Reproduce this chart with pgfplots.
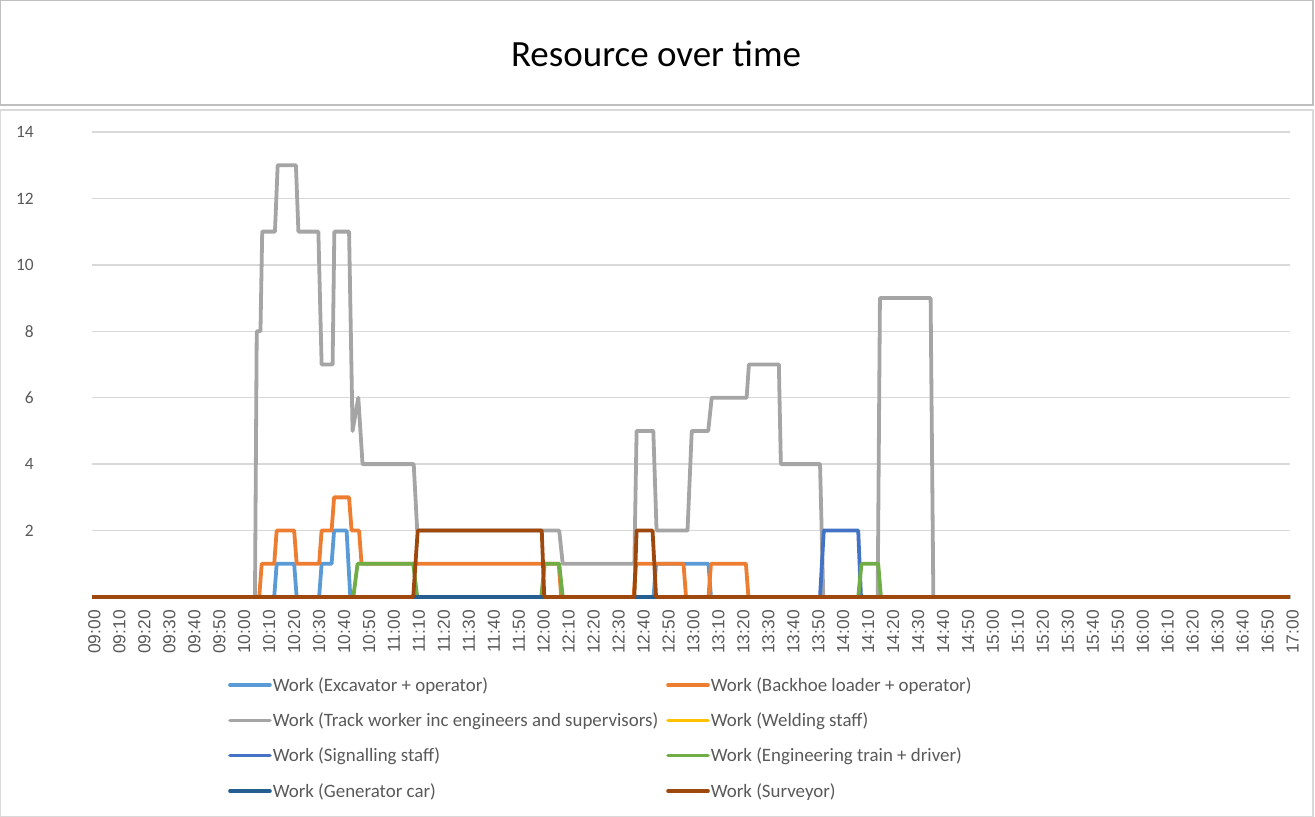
\documentclass[border=0pt]{standalone}
\usepackage{fontspec}
\setmainfont{Carlito}
\newfontfamily\tickfont{Liberation Sans}
\usepackage{pgfplots}
\pgfplotsset{compat=1.18}
\definecolor{excav}{HTML}{5B9BD5}
\definecolor{backhoe}{HTML}{ED7D31}
\definecolor{track}{HTML}{A5A5A5}
\definecolor{weld}{HTML}{FFC000}
\definecolor{signal}{HTML}{4472C4}
\definecolor{engtrain}{HTML}{70AD47}
\definecolor{gencar}{HTML}{255E91}
\definecolor{surveyor}{HTML}{9E480E}
\definecolor{txtgray}{HTML}{595959}
\definecolor{gridgray}{HTML}{D9D9D9}
\definecolor{boxgray}{HTML}{BFBFBF}

\begin{document}
\begin{tikzpicture}
\useasboundingbox (0,0) rectangle (1315bp,817bp);
% title box and chart box
\draw[boxgray, line width=1.3bp] (0.7bp,712bp) rectangle (1313bp,816.3bp);
\draw[gridgray, line width=1.3bp] (0.7bp,0.7bp) rectangle (1313bp,707bp);
\node[font=\fontsize{37bp}{44bp}\selectfont, text=black] at (656bp,763bp) {Resource over time};

\begin{axis}[
  at={(92bp,220bp)}, anchor=south west,
  scale only axis,
  width=1198bp, height=465bp,
  xmin=0, xmax=480, ymin=0, ymax=14,
  clip=false,
  axis line style={draw=none},
  major tick length=0pt,
  xtick={0,10,...,480},
  xticklabels={09:00,09:10,09:20,09:30,09:40,09:50,10:00,10:10,10:20,10:30,10:40,10:50,11:00,11:10,11:20,11:30,11:40,11:50,12:00,12:10,12:20,12:30,12:40,12:50,13:00,13:10,13:20,13:30,13:40,13:50,14:00,14:10,14:20,14:30,14:40,14:50,15:00,15:10,15:20,15:30,15:40,15:50,16:00,16:10,16:20,16:30,16:40,16:50,17:00},
  xticklabel style={rotate=90, anchor=east, inner sep=0pt, font=\tickfont\fontsize{17.4bp}{20bp}\selectfont, text=txtgray, xshift=-13bp, yshift=-2.5bp},
  ytick={2,4,...,14},
  yticklabel style={anchor=east, inner sep=0pt, font=\fontsize{17.4bp}{20bp}\selectfont, text=txtgray, xshift=-58bp},
  /pgf/number format/assume math mode=true,
  ymajorgrids,
  grid style={gridgray, line width=1.3bp},
  every axis plot/.append style={line width=3.8bp, line join=round, mark=none},
  legend columns=2,
  legend cell align=left,
  legend image code/.code={\draw[#1, line width=3.6bp, line cap=round] (0bp,0bp) -- (40bp,0bp);},
  legend style={at={(0.111,-0.166)}, anchor=north west, draw=none, fill=none,
    font=\fontsize{18.9bp}{21bp}\selectfont, text=txtgray,
    row sep=18bp,
    nodes={inner sep=1bp},
    /tikz/every even column/.append style={column sep=7bp}},
]
\addplot[excav] coordinates {(0,0)(73,0)(74,1)(81,1)(82,0)(91,0)(92,1)(96,1)(97,2)(102,2)(103.5,0)(225,0)(226,1)(247,1)(248,0)(480,0)};
\addlegendentry{Work (Excavator + operator)}
\addplot[backhoe] coordinates {(0,0)(67,0)(68,1)(73,1)(74,2)(81,2)(82,1)(91,1)(92,2)(96,2)(97,3)(103,3)(104,2)(107,2)(108,1)(187,1)(188,0)(217,0)(218,1)(237,1)(238,0)(247,0)(248,1)(262,1)(263,0)(480,0)};
\addlegendentry{Work (Backhoe loader + operator)}
\addplot[track] coordinates {(0,0)(65.3,0)(66,8)(67.5,8)(68.2,11)(73.3,11)(74.4,13)(81.7,13)(82.7,11)(90.7,11)(92,7)(96.4,7)(97.1,11)(103,11)(104.4,5)(106.7,6)(108.4,4)(128.9,4)(130.3,2)(187.2,2)(188.6,1)(217.3,1)(218.2,5)(224.9,5)(226.2,2)(238.6,2)(240.3,5)(246.9,5)(248.3,6)(262.3,6)(263.2,7)(275.2,7)(276,4)(291.7,4)(293,0)(314.8,0)(315.7,9)(336,9)(337.1,0)(480,0)};
\addlegendentry{Work (Track worker inc engineers and supervisors)}
\addplot[weld] coordinates {(0,0)(480,0)};
\addlegendentry{Work (Welding staff)}
\addplot[signal] coordinates {(0,0)(291.7,0)(293.2,2)(307,2)(308.1,0)(480,0)};
\addlegendentry{Work (Signalling staff)}
\addplot[engtrain] coordinates {(0,0)(104.7,0)(106.4,1)(128.7,1)(130.3,0)(180,0)(181.4,1)(187.2,1)(188.6,0)(307,0)(308.3,1)(315,1)(316.1,0)(480,0)};
\addlegendentry{Work (Engineering train + driver)}
\addplot[gencar] coordinates {(0,0)(480,0)};
\addlegendentry{Work (Generator car)}
\addplot[surveyor] coordinates {(0,0)(128.7,0)(130.5,2)(180.2,2)(181.2,0)(217.3,0)(218.2,2)(224.6,2)(226,0)(480,0)};
\addlegendentry{Work (Surveyor)}
\end{axis}
\end{tikzpicture}
\end{document}
